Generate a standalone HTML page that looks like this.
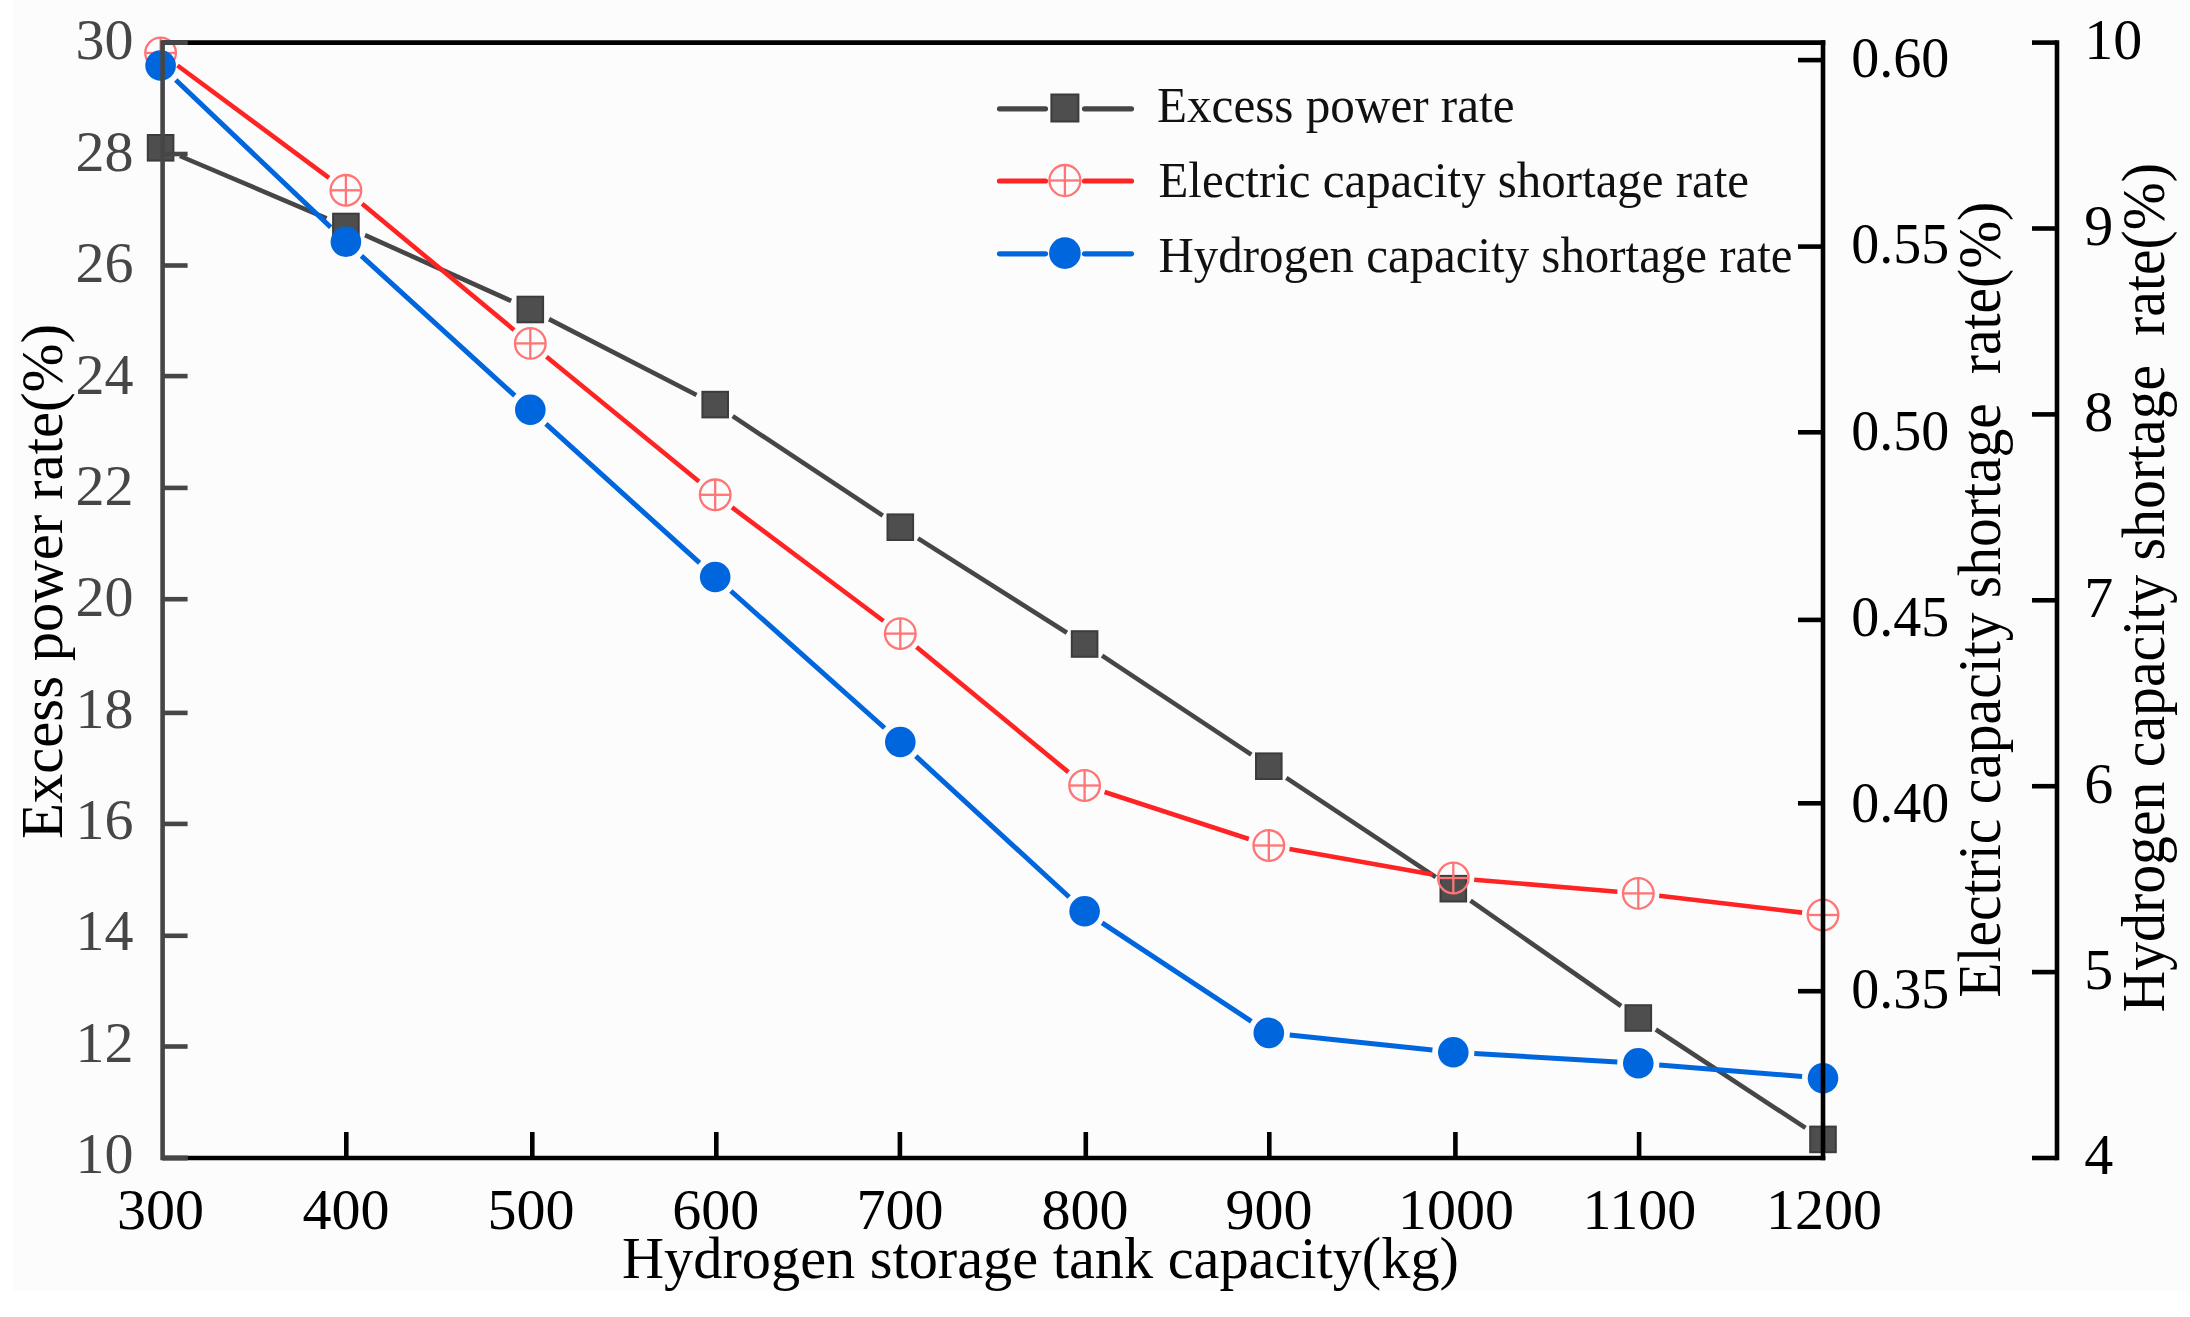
<!DOCTYPE html>
<html><head><meta charset="utf-8"><style>
html,body{margin:0;padding:0;background:#fff;}
body{width:2190px;height:1317px;overflow:hidden;}
svg{display:block;font-family:"Liberation Serif","Times New Roman",serif;}
</style></head><body>
<svg width="2190" height="1317" viewBox="0 0 2190 1317">
<rect x="13" y="0" width="2177" height="1291" fill="#fcfcfc"/>
<g stroke="#464646" stroke-width="4.6"><line x1="179.9" y1="156.0" x2="326.6" y2="218.3"/><line x1="365.0" y1="235.1" x2="511.2" y2="300.9"/><line x1="549.0" y1="319.1" x2="696.5" y2="395.0"/><line x1="732.7" y1="416.2" x2="882.8" y2="515.6"/><line x1="918.0" y1="538.4" x2="1066.9" y2="632.8"/><line x1="1102.1" y1="655.6" x2="1251.3" y2="754.6"/><line x1="1286.3" y1="777.8" x2="1435.8" y2="877.1"/><line x1="1470.5" y1="900.7" x2="1621.1" y2="1006.0"/><line x1="1655.8" y1="1029.5" x2="1805.5" y2="1127.9"/></g>
<rect x="147.8" y="135.0" width="25.6" height="25.6" fill="#4e4e4e" stroke="#3c3c3c" stroke-width="2"/>
<rect x="333.1" y="213.7" width="25.6" height="25.6" fill="#4e4e4e" stroke="#3c3c3c" stroke-width="2"/>
<rect x="517.5" y="296.7" width="25.6" height="25.6" fill="#4e4e4e" stroke="#3c3c3c" stroke-width="2"/>
<rect x="702.4" y="391.8" width="25.6" height="25.6" fill="#4e4e4e" stroke="#3c3c3c" stroke-width="2"/>
<rect x="887.5" y="514.4" width="25.6" height="25.6" fill="#4e4e4e" stroke="#3c3c3c" stroke-width="2"/>
<rect x="1071.8" y="631.2" width="25.6" height="25.6" fill="#4e4e4e" stroke="#3c3c3c" stroke-width="2"/>
<rect x="1256.0" y="753.4" width="25.6" height="25.6" fill="#4e4e4e" stroke="#3c3c3c" stroke-width="2"/>
<rect x="1440.5" y="875.9" width="25.6" height="25.6" fill="#4e4e4e" stroke="#3c3c3c" stroke-width="2"/>
<rect x="1625.5" y="1005.2" width="25.6" height="25.6" fill="#4e4e4e" stroke="#3c3c3c" stroke-width="2"/>
<rect x="1810.2" y="1126.6" width="25.6" height="25.6" fill="#4e4e4e" stroke="#3c3c3c" stroke-width="2"/>
<g stroke="#ff2424" stroke-width="4.6"><line x1="177.5" y1="65.5" x2="329.0" y2="177.8"/><line x1="362.1" y1="203.7" x2="514.1" y2="330.0"/><line x1="546.5" y1="356.7" x2="699.0" y2="481.5"/><line x1="732.0" y1="507.4" x2="883.5" y2="621.0"/><line x1="916.5" y1="647.0" x2="1068.4" y2="772.1"/><line x1="1104.6" y1="792.0" x2="1248.8" y2="839.0"/><line x1="1289.5" y1="849.1" x2="1432.6" y2="874.4"/><line x1="1474.2" y1="879.7" x2="1617.4" y2="891.7"/><line x1="1659.2" y1="895.8" x2="1802.1" y2="912.6"/></g>
<g stroke="#ff7474" stroke-width="2.3" fill="none"><circle cx="160.6" cy="53.0" r="15.3"/><line x1="145.3" y1="53.0" x2="175.9" y2="53.0"/><line x1="160.6" y1="37.7" x2="160.6" y2="68.3"/></g>
<g stroke="#ff7474" stroke-width="2.3" fill="none"><circle cx="345.9" cy="190.3" r="15.3"/><line x1="330.6" y1="190.3" x2="361.2" y2="190.3"/><line x1="345.9" y1="175.0" x2="345.9" y2="205.6"/></g>
<g stroke="#ff7474" stroke-width="2.3" fill="none"><circle cx="530.3" cy="343.4" r="15.3"/><line x1="515.0" y1="343.4" x2="545.6" y2="343.4"/><line x1="530.3" y1="328.1" x2="530.3" y2="358.7"/></g>
<g stroke="#ff7474" stroke-width="2.3" fill="none"><circle cx="715.2" cy="494.8" r="15.3"/><line x1="699.9" y1="494.8" x2="730.5" y2="494.8"/><line x1="715.2" y1="479.5" x2="715.2" y2="510.1"/></g>
<g stroke="#ff7474" stroke-width="2.3" fill="none"><circle cx="900.3" cy="633.6" r="15.3"/><line x1="885.0" y1="633.6" x2="915.6" y2="633.6"/><line x1="900.3" y1="618.3" x2="900.3" y2="648.9"/></g>
<g stroke="#ff7474" stroke-width="2.3" fill="none"><circle cx="1084.6" cy="785.5" r="15.3"/><line x1="1069.3" y1="785.5" x2="1099.9" y2="785.5"/><line x1="1084.6" y1="770.2" x2="1084.6" y2="800.8"/></g>
<g stroke="#ff7474" stroke-width="2.3" fill="none"><circle cx="1268.8" cy="845.5" r="15.3"/><line x1="1253.5" y1="845.5" x2="1284.1" y2="845.5"/><line x1="1268.8" y1="830.2" x2="1268.8" y2="860.8"/></g>
<g stroke="#ff7474" stroke-width="2.3" fill="none"><circle cx="1453.3" cy="878.0" r="15.3"/><line x1="1438.0" y1="878.0" x2="1468.6" y2="878.0"/><line x1="1453.3" y1="862.7" x2="1453.3" y2="893.3"/></g>
<g stroke="#ff7474" stroke-width="2.3" fill="none"><circle cx="1638.3" cy="893.4" r="15.3"/><line x1="1623.0" y1="893.4" x2="1653.6" y2="893.4"/><line x1="1638.3" y1="878.1" x2="1638.3" y2="908.7"/></g>
<g stroke="#ff7474" stroke-width="2.3" fill="none"><circle cx="1823.0" cy="915.0" r="15.3"/><line x1="1807.7" y1="915.0" x2="1838.3" y2="915.0"/><line x1="1823.0" y1="899.7" x2="1823.0" y2="930.3"/></g>
<g stroke="#0066dd" stroke-width="5.0"><line x1="175.8" y1="80.0" x2="330.7" y2="227.3"/><line x1="361.4" y1="255.9" x2="514.8" y2="395.7"/><line x1="545.9" y1="423.9" x2="699.6" y2="562.9"/><line x1="730.9" y1="591.0" x2="884.6" y2="728.0"/><line x1="915.8" y1="756.2" x2="1069.1" y2="897.0"/><line x1="1102.1" y1="922.8" x2="1251.3" y2="1021.3"/><line x1="1289.7" y1="1035.1" x2="1432.4" y2="1050.0"/><line x1="1474.3" y1="1053.5" x2="1617.3" y2="1062.0"/><line x1="1659.2" y1="1065.0" x2="1802.1" y2="1076.5"/></g>
<circle cx="160.6" cy="65.5" r="15.3" fill="#0066dd"/>
<circle cx="345.9" cy="241.8" r="15.3" fill="#0066dd"/>
<circle cx="530.3" cy="409.8" r="15.3" fill="#0066dd"/>
<circle cx="715.2" cy="577.0" r="15.3" fill="#0066dd"/>
<circle cx="900.3" cy="742.0" r="15.3" fill="#0066dd"/>
<circle cx="1084.6" cy="911.2" r="15.3" fill="#0066dd"/>
<circle cx="1268.8" cy="1032.9" r="15.3" fill="#0066dd"/>
<circle cx="1453.3" cy="1052.2" r="15.3" fill="#0066dd"/>
<circle cx="1638.3" cy="1063.3" r="15.3" fill="#0066dd"/>
<circle cx="1823.0" cy="1078.2" r="15.3" fill="#0066dd"/>
<line x1="162.6" y1="42.6" x2="1825.3" y2="42.6" stroke="#000" stroke-width="4.6"/>
<line x1="162.6" y1="1158.0" x2="1825.3" y2="1158.0" stroke="#000" stroke-width="4.6"/>
<line x1="1823.0" y1="40.300000000000004" x2="1823.0" y2="1160.3" stroke="#000" stroke-width="4.6"/>
<line x1="162.6" y1="40.300000000000004" x2="162.6" y2="1160.3" stroke="#464646" stroke-width="4.6"/>
<line x1="162.6" y1="42.6" x2="187.6" y2="42.6" stroke="#464646" stroke-width="4.6"/>
<line x1="162.6" y1="1158.0" x2="187.6" y2="1158.0" stroke="#464646" stroke-width="4.6"/>
<line x1="162.6" y1="1158.0" x2="187.6" y2="1158.0" stroke="#464646" stroke-width="4.6"/>
<text x="133.4" y="1173.0" font-size="58" fill="#464646" text-anchor="end">10</text>
<line x1="162.6" y1="1046.5" x2="187.6" y2="1046.5" stroke="#464646" stroke-width="4.6"/>
<text x="133.4" y="1061.6" font-size="58" fill="#464646" text-anchor="end">12</text>
<line x1="162.6" y1="935.8" x2="187.6" y2="935.8" stroke="#464646" stroke-width="4.6"/>
<text x="133.4" y="950.3" font-size="58" fill="#464646" text-anchor="end">14</text>
<line x1="162.6" y1="823.9" x2="187.6" y2="823.9" stroke="#464646" stroke-width="4.6"/>
<text x="133.4" y="838.9" font-size="58" fill="#464646" text-anchor="end">16</text>
<line x1="162.6" y1="712.9" x2="187.6" y2="712.9" stroke="#464646" stroke-width="4.6"/>
<text x="133.4" y="727.6" font-size="58" fill="#464646" text-anchor="end">18</text>
<line x1="162.6" y1="599.2" x2="187.6" y2="599.2" stroke="#464646" stroke-width="4.6"/>
<text x="133.4" y="616.2" font-size="58" fill="#464646" text-anchor="end">20</text>
<line x1="162.6" y1="487.9" x2="187.6" y2="487.9" stroke="#464646" stroke-width="4.6"/>
<text x="133.4" y="504.8" font-size="58" fill="#464646" text-anchor="end">22</text>
<line x1="162.6" y1="376.1" x2="187.6" y2="376.1" stroke="#464646" stroke-width="4.6"/>
<text x="133.4" y="393.5" font-size="58" fill="#464646" text-anchor="end">24</text>
<line x1="162.6" y1="265.5" x2="187.6" y2="265.5" stroke="#464646" stroke-width="4.6"/>
<text x="133.4" y="282.1" font-size="58" fill="#464646" text-anchor="end">26</text>
<line x1="162.6" y1="154.0" x2="187.6" y2="154.0" stroke="#464646" stroke-width="4.6"/>
<text x="133.4" y="170.8" font-size="58" fill="#464646" text-anchor="end">28</text>
<line x1="162.6" y1="42.3" x2="187.6" y2="42.3" stroke="#464646" stroke-width="4.6"/>
<text x="133.4" y="59.4" font-size="58" fill="#464646" text-anchor="end">30</text>
<text x="160.6" y="1228.6" font-size="58" fill="#000" text-anchor="middle">300</text>
<line x1="346.3" y1="1158.0" x2="346.3" y2="1132.0" stroke="#000" stroke-width="4.6"/>
<text x="345.9" y="1228.6" font-size="58" fill="#000" text-anchor="middle">400</text>
<line x1="532.3" y1="1158.0" x2="532.3" y2="1132.0" stroke="#000" stroke-width="4.6"/>
<text x="531.0" y="1228.6" font-size="58" fill="#000" text-anchor="middle">500</text>
<line x1="716.3" y1="1158.0" x2="716.3" y2="1132.0" stroke="#000" stroke-width="4.6"/>
<text x="715.8" y="1228.6" font-size="58" fill="#000" text-anchor="middle">600</text>
<line x1="899.9" y1="1158.0" x2="899.9" y2="1132.0" stroke="#000" stroke-width="4.6"/>
<text x="900.0" y="1228.6" font-size="58" fill="#000" text-anchor="middle">700</text>
<line x1="1085.8" y1="1158.0" x2="1085.8" y2="1132.0" stroke="#000" stroke-width="4.6"/>
<text x="1085.0" y="1228.6" font-size="58" fill="#000" text-anchor="middle">800</text>
<line x1="1269.3" y1="1158.0" x2="1269.3" y2="1132.0" stroke="#000" stroke-width="4.6"/>
<text x="1269.0" y="1228.6" font-size="58" fill="#000" text-anchor="middle">900</text>
<line x1="1455.4" y1="1158.0" x2="1455.4" y2="1132.0" stroke="#000" stroke-width="4.6"/>
<text x="1456.0" y="1228.6" font-size="58" fill="#000" text-anchor="middle">1000</text>
<line x1="1639.1" y1="1158.0" x2="1639.1" y2="1132.0" stroke="#000" stroke-width="4.6"/>
<text x="1639.4" y="1228.6" font-size="58" fill="#000" text-anchor="middle">1100</text>
<text x="1824.0" y="1228.6" font-size="58" fill="#000" text-anchor="middle">1200</text>
<line x1="1823.0" y1="991.2" x2="1798.0" y2="991.2" stroke="#000" stroke-width="4.6"/>
<text x="1851.3" y="1008.0" font-size="58" fill="#000" textLength="98" lengthAdjust="spacingAndGlyphs">0.35</text>
<line x1="1823.0" y1="803.3" x2="1798.0" y2="803.3" stroke="#000" stroke-width="4.6"/>
<text x="1851.3" y="821.9" font-size="58" fill="#000" textLength="98" lengthAdjust="spacingAndGlyphs">0.40</text>
<line x1="1823.0" y1="619.9" x2="1798.0" y2="619.9" stroke="#000" stroke-width="4.6"/>
<text x="1851.3" y="635.7" font-size="58" fill="#000" textLength="98" lengthAdjust="spacingAndGlyphs">0.45</text>
<line x1="1823.0" y1="432.3" x2="1798.0" y2="432.3" stroke="#000" stroke-width="4.6"/>
<text x="1851.3" y="449.6" font-size="58" fill="#000" textLength="98" lengthAdjust="spacingAndGlyphs">0.50</text>
<line x1="1823.0" y1="246.6" x2="1798.0" y2="246.6" stroke="#000" stroke-width="4.6"/>
<text x="1851.3" y="263.4" font-size="58" fill="#000" textLength="98" lengthAdjust="spacingAndGlyphs">0.55</text>
<line x1="1823.0" y1="60.1" x2="1798.0" y2="60.1" stroke="#000" stroke-width="4.6"/>
<text x="1851.3" y="77.3" font-size="58" fill="#000" textLength="98" lengthAdjust="spacingAndGlyphs">0.60</text>
<line x1="2057.0" y1="40.300000000000004" x2="2057.0" y2="1160.3" stroke="#000" stroke-width="4.6"/>
<line x1="2057.0" y1="1158.0" x2="2032.0" y2="1158.0" stroke="#000" stroke-width="4.6"/>
<text x="2084.3" y="1174.4" font-size="58" fill="#000">4</text>
<line x1="2057.0" y1="972.1" x2="2032.0" y2="972.1" stroke="#000" stroke-width="4.6"/>
<text x="2084.3" y="988.6" font-size="58" fill="#000">5</text>
<line x1="2057.0" y1="786.2" x2="2032.0" y2="786.2" stroke="#000" stroke-width="4.6"/>
<text x="2084.3" y="802.7" font-size="58" fill="#000">6</text>
<line x1="2057.0" y1="600.3" x2="2032.0" y2="600.3" stroke="#000" stroke-width="4.6"/>
<text x="2084.3" y="616.9" font-size="58" fill="#000">7</text>
<line x1="2057.0" y1="414.4" x2="2032.0" y2="414.4" stroke="#000" stroke-width="4.6"/>
<text x="2084.3" y="431.1" font-size="58" fill="#000">8</text>
<line x1="2057.0" y1="228.5" x2="2032.0" y2="228.5" stroke="#000" stroke-width="4.6"/>
<text x="2084.3" y="245.2" font-size="58" fill="#000">9</text>
<line x1="2057.0" y1="42.6" x2="2032.0" y2="42.6" stroke="#000" stroke-width="4.6"/>
<text x="2084.3" y="59.4" font-size="58" fill="#000">10</text>
<text transform="translate(61.5,839) rotate(-90)" font-size="60" fill="#000" textLength="515" lengthAdjust="spacingAndGlyphs">Excess power rate(%)</text>
<text x="622" y="1278.2" font-size="59.5" fill="#000" textLength="837" lengthAdjust="spacingAndGlyphs">Hydrogen storage tank capacity(kg)</text>
<text transform="translate(2000.3,997.7) rotate(-90)" font-size="60.5" fill="#000" textLength="796" lengthAdjust="spacingAndGlyphs">Electric capacity shortage&#160;&#160;rate(%)</text>
<text transform="translate(2164.3,1012.5) rotate(-90)" font-size="60.5" fill="#000" textLength="849.6" lengthAdjust="spacingAndGlyphs">Hydrogen capacity shortage&#160;&#160;rate(%)</text>
<g stroke="#464646" stroke-width="5.2" stroke-linecap="round"><line x1="999.5" y1="108.8" x2="1045.5" y2="108.8"/><line x1="1084.5" y1="108.8" x2="1131.5" y2="108.8"/></g>
<rect x="1051.4" y="94.5" width="27.0" height="27.0" fill="#4e4e4e" stroke="#3c3c3c" stroke-width="2"/>
<text x="1157" y="121.6" font-size="51.5" fill="#111" textLength="357.5" lengthAdjust="spacingAndGlyphs">Excess power rate</text>
<g stroke="#ff2424" stroke-width="5.2" stroke-linecap="round"><line x1="999.5" y1="181.0" x2="1045.5" y2="181.0"/><line x1="1084.5" y1="181.0" x2="1131.5" y2="181.0"/></g>
<g stroke="#ff7474" stroke-width="2.3" fill="none"><circle cx="1064.9" cy="180.5" r="15.5"/><line x1="1049.4" y1="180.5" x2="1080.4" y2="180.5"/><line x1="1064.9" y1="165.0" x2="1064.9" y2="196.0"/></g>
<text x="1158.5" y="196.7" font-size="51.5" fill="#111" textLength="590.5" lengthAdjust="spacingAndGlyphs">Electric capacity shortage rate</text>
<g stroke="#0066dd" stroke-width="5.2" stroke-linecap="round"><line x1="999.5" y1="253.8" x2="1045.5" y2="253.8"/><line x1="1084.5" y1="253.8" x2="1131.5" y2="253.8"/></g>
<circle cx="1064.9" cy="253.1" r="15.8" fill="#0066dd"/>
<text x="1158.5" y="271.7" font-size="51.5" fill="#111" textLength="634" lengthAdjust="spacingAndGlyphs">Hydrogen capacity shortage rate</text>
</svg>
</body></html>
